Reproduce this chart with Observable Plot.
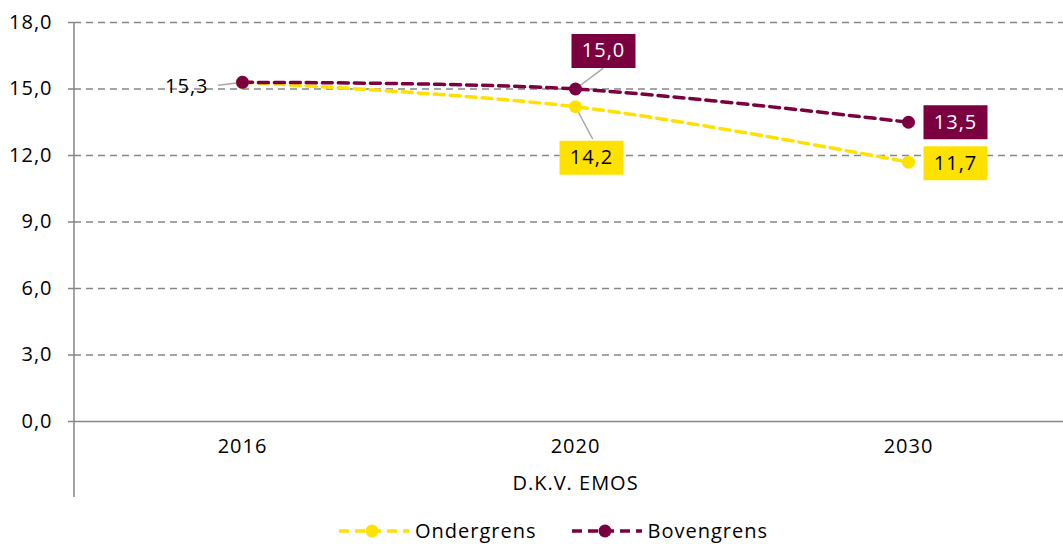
<!DOCTYPE html>
<html><head><meta charset="utf-8">
<script src="https://cdn.jsdelivr.net/npm/d3@7"></script>
<script src="https://cdn.jsdelivr.net/npm/@observablehq/plot@0.6"></script>
<style>
body{margin:0;background:#fff;font-family:"Open Sans",sans-serif;}
#chart{width:1063px;height:544px;overflow:hidden;position:relative}
.legend{display:flex;justify-content:center;align-items:center;height:26px;padding-top:13px;font-size:20px;line-height:26px;letter-spacing:1px;color:#000;margin-left:44px}
.legend .item{display:flex;align-items:center}
.legend .item + .item{margin-left:35px}
.legend svg{margin-right:6px}
</style></head><body><div id="chart"></div><script>
const years = ["2016", "2020", "2030"];
const ondergrens = [15.3, 14.2, 11.7];
const bovengrens = [15.3, 15.0, 13.5];
const yTicks = [0, 3, 6, 9, 12, 15, 18];
const groupLabel = "D.K.V. EMOS";
const seriesNames = ["Ondergrens", "Bovengrens"];
const seriesColors = ["#FFE100", "#7A0040"];

const seriesValues = [ondergrens, bovengrens];
const rows = seriesNames.flatMap((s, k) => years.map((y, i) => ({series: s, year: y, value: seriesValues[k][i]})));
const fmt = v => v.toFixed(1).replace(".", ",");
const pick = (s, y) => rows.filter(d => d.series === s && d.year === y);

const boxSymbol = {draw(ctx) { ctx.rect(-32, -17, 64, 34); }};
const leaderShape = {draw(ctx, l) { ctx.moveTo(0, 0); ctx.lineTo(0, -l); }};
const GRAY = "#868686";
const LEAD = "#A6A6A6";

function boxLabel(data, dx, dy, bg, fg) {
  return [
    Plot.dot(data, {x: "year", y: "value", symbol: boxSymbol, fill: bg, r: 10, dx, dy}),
    Plot.text(data, {x: "year", y: "value", text: d => fmt(d.value), fill: fg, dx, dy, fontSize: 20})
  ];
}
function leader(data, length, rotate) {
  return Plot.vector(data, {x: "year", y: "value", length, rotate, anchor: "start", shape: leaderShape, stroke: LEAD, strokeWidth: 1.5});
}

const axisLine = (index, scales, values, dims) =>
  d3.create("svg:line")
    .attr("x1", dims.marginLeft).attr("x2", dims.marginLeft)
    .attr("y1", dims.marginTop).attr("y2", dims.height - 8)
    .attr("stroke", GRAY).attr("stroke-width", 1.5).node();

const plot = Plot.plot({
  width: 1063,
  height: 505,
  marginTop: 22,
  marginBottom: 84,
  marginLeft: 74,
  marginRight: 0,
  style: {fontFamily: "Open Sans", fontSize: "20px", letterSpacing: "1px", color: "#000", background: "#fff"},
  x: {type: "point", domain: years, range: [74, 1075], padding: 0.5},
  y: {domain: [0, 18]},
  color: {domain: seriesNames, range: seriesColors},
  marks: [
    Plot.gridY(yTicks.filter(t => t > 0), {stroke: GRAY, strokeOpacity: 1, strokeDasharray: "7,5", strokeWidth: 1.3}),
    Plot.ruleY([0], {stroke: GRAY, strokeWidth: 1.5}),
    axisLine,
    Plot.axisY(yTicks, {tickSize: 6, tickPadding: 16, tickFormat: fmt, stroke: GRAY, strokeWidth: 1.5, fill: "#000", label: null, fontSize: 20}),
    Plot.axisX({tickSize: 0, tickPadding: 17, label: null, fill: "#000", fontSize: 20}),
    Plot.text([groupLabel], {x: () => years[1], frameAnchor: "bottom", dy: 68, text: d => d, fill: "#000", fontSize: 20}),
    leader(pick("Bovengrens", "2016"), 24, 263),
    leader(pick("Bovengrens", "2020"), 34, 53),
    leader(pick("Ondergrens", "2020"), 36, 152),
    Plot.line(rows, {x: "year", y: "value", stroke: "series", z: "series", curve: "cardinal", strokeWidth: 3.5, strokeDasharray: "10,6"}),
    Plot.dot(rows, {x: "year", y: "value", fill: "series", r: 6.5}),
    Plot.text(pick("Bovengrens", "2016"), {x: "year", y: "value", text: d => fmt(d.value), textAnchor: "end", dx: -34, dy: 4, fill: "#000", fontSize: 20}),
    ...boxLabel(pick("Bovengrens", "2020"), 28, -38, "#7A0040", "#fff"),
    ...boxLabel(pick("Ondergrens", "2020"), 16, 51, "#FFE100", "#000"),
    ...boxLabel(pick("Bovengrens", "2030"), 47, 0, "#7A0040", "#fff"),
    ...boxLabel(pick("Ondergrens", "2030"), 47, 1, "#FFE100", "#000")
  ]
});

const chart = document.getElementById("chart");
chart.appendChild(plot);

const legend = document.createElement("div");
legend.className = "legend";
seriesNames.forEach((s, k) => {
  const item = document.createElement("div");
  item.className = "item";
  const sw = d3.create("svg").attr("width", 70).attr("height", 16);
  sw.append("line").attr("x1", 0).attr("x2", 70).attr("y1", 8).attr("y2", 8)
    .attr("stroke", seriesColors[k]).attr("stroke-width", 3.5).attr("stroke-dasharray", "10,6");
  sw.append("circle").attr("cx", 33).attr("cy", 8).attr("r", 6.5).attr("fill", seriesColors[k]);
  item.appendChild(sw.node());
  const t = document.createElement("span");
  t.textContent = s;
  item.appendChild(t);
  legend.appendChild(item);
});
chart.appendChild(legend);
</script></body></html>
